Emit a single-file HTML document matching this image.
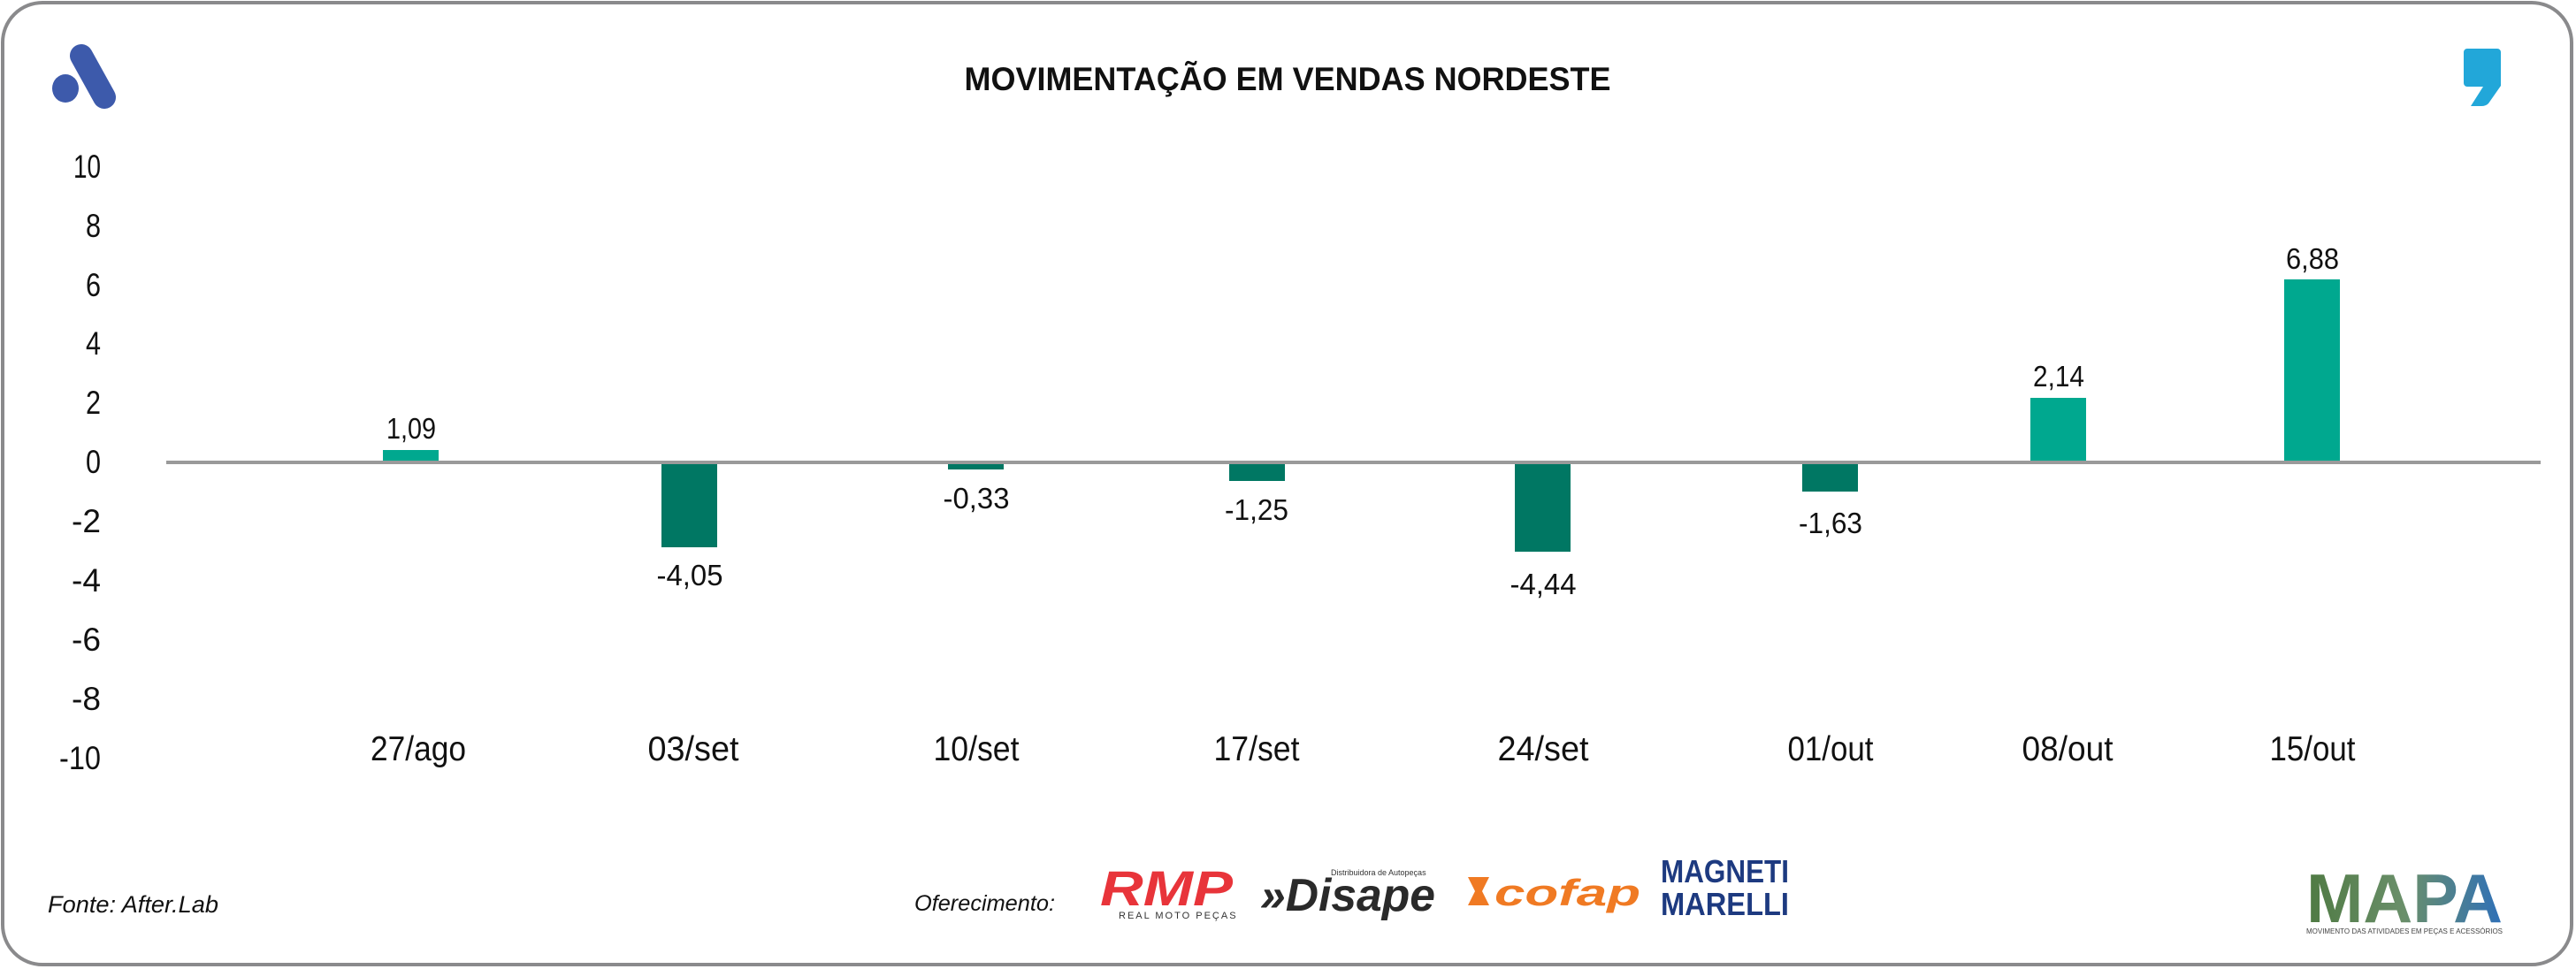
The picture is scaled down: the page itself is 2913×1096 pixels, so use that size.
<!DOCTYPE html>
<html><head><meta charset="utf-8"><style>
html,body{margin:0;padding:0;background:#fff;}
body{width:2913px;height:1096px;position:relative;overflow:hidden;font-family:"Liberation Sans",sans-serif;}
</style></head><body>
<svg width="2913" height="1096" viewBox="0 0 2913 1096" xmlns="http://www.w3.org/2000/svg" style="position:absolute;left:0;top:0">
<rect x="3" y="3" width="2905" height="1088" rx="45" ry="45" fill="#fff" stroke="#8a8a8c" stroke-width="4"/>
<line x1="92" y1="63" x2="118" y2="110" stroke="#3d5aab" stroke-width="26" stroke-linecap="round"/>
<ellipse cx="74" cy="100" rx="15" ry="16" fill="#3d5aab"/>
<path d="M2790 55 h34 a4 4 0 0 1 4 4 v38 l-14 20 q-3 3 -8 3 h-12 l14 -22 h-18 a4 4 0 0 1 -4 -4 v-35 a4 4 0 0 1 4 -4z" fill="#22a7d9"/>
<text x="1456" y="102" text-anchor="middle" font-weight="bold" font-size="37" fill="#111" textLength="731" lengthAdjust="spacingAndGlyphs">MOVIMENTAÇÃO EM VENDAS NORDESTE</text>
<g font-size="37" fill="#111" text-anchor="end" lengthAdjust="spacingAndGlyphs">
<text x="114" y="201" textLength="31" lengthAdjust="spacingAndGlyphs">10</text>
<text x="114" y="268" textLength="17" lengthAdjust="spacingAndGlyphs">8</text>
<text x="114" y="335" textLength="17" lengthAdjust="spacingAndGlyphs">6</text>
<text x="114" y="401" textLength="17" lengthAdjust="spacingAndGlyphs">4</text>
<text x="114" y="468" textLength="17" lengthAdjust="spacingAndGlyphs">2</text>
<text x="114" y="535" textLength="17" lengthAdjust="spacingAndGlyphs">0</text>
<text x="114" y="602" textLength="33" lengthAdjust="spacingAndGlyphs">-2</text>
<text x="114" y="669" textLength="33" lengthAdjust="spacingAndGlyphs">-4</text>
<text x="114" y="736" textLength="33" lengthAdjust="spacingAndGlyphs">-6</text>
<text x="114" y="803" textLength="33" lengthAdjust="spacingAndGlyphs">-8</text>
<text x="114" y="870" textLength="47" lengthAdjust="spacingAndGlyphs">-10</text>
</g>
<g>
<rect x="433" y="509" width="63" height="13" fill="#00a88f"/>
<rect x="748" y="522" width="63" height="97" fill="#007763"/>
<rect x="1072" y="522" width="63" height="9" fill="#007763"/>
<rect x="1390" y="522" width="63" height="22" fill="#007763"/>
<rect x="1713" y="522" width="63" height="102" fill="#007763"/>
<rect x="2038" y="522" width="63" height="34" fill="#007763"/>
<rect x="2296" y="450" width="63" height="72" fill="#00a88f"/>
<rect x="2583" y="316" width="63" height="206" fill="#00a88f"/>
</g>
<line x1="188" y1="523" x2="2873" y2="523" stroke="#9a9a9a" stroke-width="4"/>
<g font-size="33" fill="#111" text-anchor="middle">
<text x="465" y="496" textLength="56" lengthAdjust="spacingAndGlyphs">1,09</text>
<text x="780" y="662" textLength="75" lengthAdjust="spacingAndGlyphs">-4,05</text>
<text x="1104" y="575" textLength="75" lengthAdjust="spacingAndGlyphs">-0,33</text>
<text x="1421" y="588" textLength="72" lengthAdjust="spacingAndGlyphs">-1,25</text>
<text x="1745" y="672" textLength="75" lengthAdjust="spacingAndGlyphs">-4,44</text>
<text x="2070" y="603" textLength="72" lengthAdjust="spacingAndGlyphs">-1,63</text>
<text x="2328" y="437" textLength="58" lengthAdjust="spacingAndGlyphs">2,14</text>
<text x="2615" y="304" textLength="60" lengthAdjust="spacingAndGlyphs">6,88</text>
</g>
<g font-size="39" fill="#111" text-anchor="middle">
<text x="473" y="860" textLength="108" lengthAdjust="spacingAndGlyphs">27/ago</text>
<text x="784" y="860" textLength="103" lengthAdjust="spacingAndGlyphs">03/set</text>
<text x="1104" y="860" textLength="97" lengthAdjust="spacingAndGlyphs">10/set</text>
<text x="1421" y="860" textLength="97" lengthAdjust="spacingAndGlyphs">17/set</text>
<text x="1745" y="860" textLength="103" lengthAdjust="spacingAndGlyphs">24/set</text>
<text x="2070" y="860" textLength="97" lengthAdjust="spacingAndGlyphs">01/out</text>
<text x="2338" y="860" textLength="103" lengthAdjust="spacingAndGlyphs">08/out</text>
<text x="2615" y="860" textLength="97" lengthAdjust="spacingAndGlyphs">15/out</text>
</g>
<text x="54" y="1032" font-size="27" font-style="italic" fill="#111" textLength="193" lengthAdjust="spacingAndGlyphs">Fonte: After.Lab</text>
<text x="1034" y="1030" font-size="25" font-style="italic" fill="#111" textLength="159" lengthAdjust="spacingAndGlyphs">Oferecimento:</text>
<text x="1244" y="1024" font-weight="bold" font-style="italic" font-size="56" fill="#e8343a" textLength="150" lengthAdjust="spacingAndGlyphs">RMP</text>
<text x="1265" y="1039" font-size="11" fill="#333" letter-spacing="2">REAL MOTO PEÇAS</text>
<text x="1425" y="1030" font-weight="bold" font-style="italic" font-size="52" fill="#2a2a2a" textLength="198" lengthAdjust="spacingAndGlyphs">»Disape</text>
<text x="1505" y="990" font-size="9" fill="#333">Distribuidora de Autopeças</text>
<path d="M1660 992 h24 l-8 16 l8 16 h-24 l8 -16z" fill="#f07a23"/>
<text x="1690" y="1024" font-weight="bold" font-style="italic" font-size="42" fill="#f07a23" textLength="165" lengthAdjust="spacingAndGlyphs">cofap</text>
<text x="1878" y="998" font-weight="bold" font-size="36" fill="#1d3a80" textLength="145" lengthAdjust="spacingAndGlyphs">MAGNETI</text>
<text x="1878" y="1035" font-weight="bold" font-size="36" fill="#1d3a80" textLength="145" lengthAdjust="spacingAndGlyphs">MARELLI</text>
<defs><linearGradient id="mg" x1="0" x2="1" y1="0" y2="0"><stop offset="0" stop-color="#4f7a43"/><stop offset="0.5" stop-color="#6a8f6a"/><stop offset="1" stop-color="#2f70b8"/></linearGradient></defs>
<text x="2608" y="1043" font-weight="bold" font-size="78" fill="url(#mg)" textLength="222" lengthAdjust="spacingAndGlyphs">MAPA</text>
<text x="2608" y="1056" font-size="8" fill="#444" textLength="222" lengthAdjust="spacingAndGlyphs">MOVIMENTO DAS ATIVIDADES EM PEÇAS E ACESSÓRIOS</text>
</svg>
</body></html>
